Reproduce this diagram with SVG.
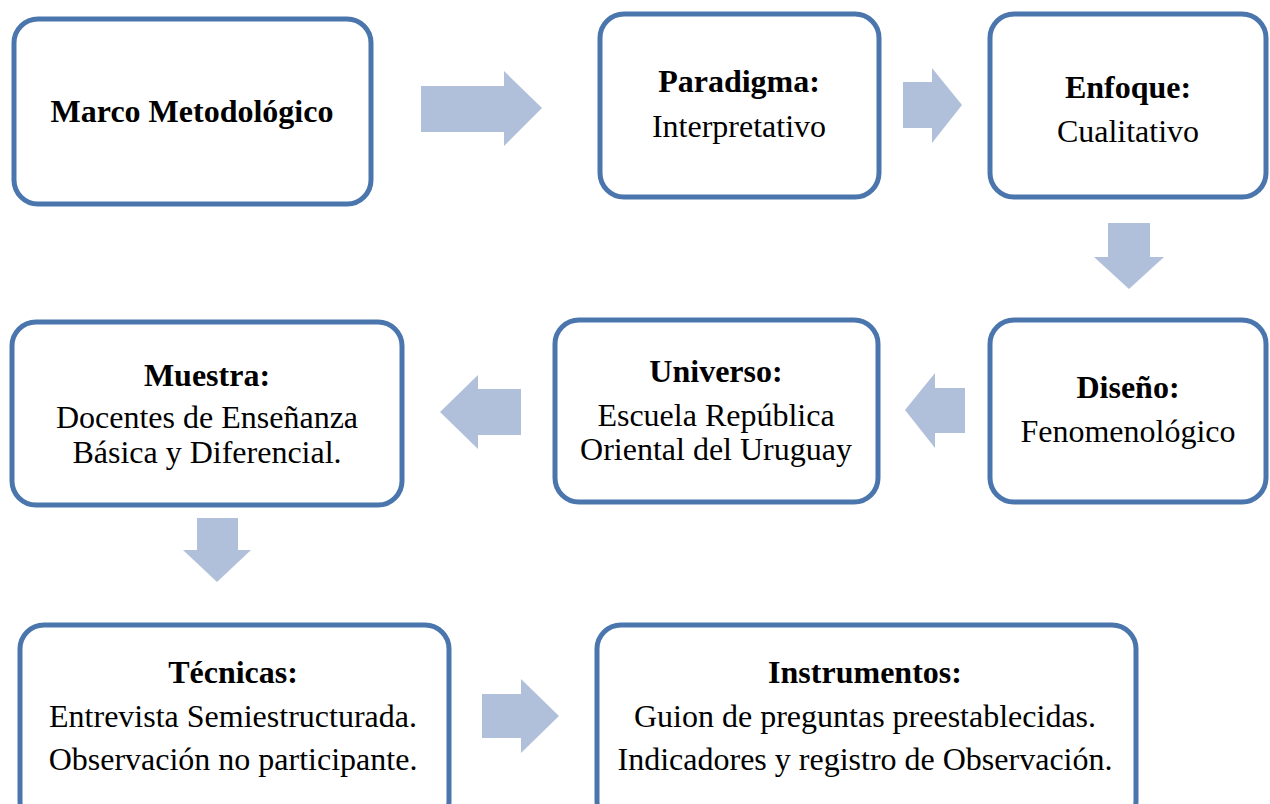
<svg xmlns="http://www.w3.org/2000/svg" width="1270" height="804" viewBox="0 0 1270 804">
<style>
.box{fill:#ffffff;stroke:#4a76ad;stroke-width:5}
.arr{fill:#b1c0da;stroke:none}
text{font-family:"Liberation Serif","Times New Roman",serif;font-size:32px;fill:#000;text-anchor:middle}
.b{font-weight:bold}
</style>
<rect width="1270" height="804" fill="#ffffff"/>
<g id="connectors">
<polygon class="arr" points="421,86 504,86 504,71 542,108 504,146 504,132 421,132"/>
<polygon class="arr" points="903,82 932,82 932,68 962,105 932,143 932,128 903,128"/>
<polygon class="arr" points="1108,223 1150,223 1150,257 1164,257 1129,289 1094,257 1108,257"/>
<polygon class="arr" points="965,388 935,388 935,373 905,410 935,448 935,433 965,433"/>
<polygon class="arr" points="521,389 478,389 478,375 440,412 478,449 478,435 521,435"/>
<polygon class="arr" points="197,518 238,518 238,550 251,550 217,582 183,550 197,550"/>
<polygon class="arr" points="482,694 521,694 521,679 559,716 521,753 521,738 482,738"/>
</g>
<g id="marco">
<rect class="box" x="14" y="19" width="357" height="185" rx="24"/>
<text class="b" x="192" y="122">Marco Metodológico</text>
</g>
<g id="paradigma">
<rect class="box" x="600" y="14" width="279" height="183" rx="24"/>
<text class="b" x="739" y="92">Paradigma:</text>
<text x="739" y="137">Interpretativo</text>
</g>
<g id="enfoque">
<rect class="box" x="990" y="14" width="276" height="183" rx="24"/>
<text class="b" x="1128" y="98">Enfoque:</text>
<text x="1128" y="142">Cualitativo</text>
</g>
<g id="diseno">
<rect class="box" x="990" y="320" width="276" height="182" rx="24"/>
<text class="b" x="1128" y="398">Diseño:</text>
<text x="1128" y="442">Fenomenológico</text>
</g>
<g id="universo">
<rect class="box" x="555" y="320" width="323" height="182" rx="24"/>
<text class="b" x="716" y="382">Universo:</text>
<text x="716" y="426">Escuela República</text>
<text x="716" y="460">Oriental del Uruguay</text>
</g>
<g id="muestra">
<rect class="box" x="12" y="322" width="390" height="183" rx="24"/>
<text class="b" x="207" y="386">Muestra:</text>
<text x="207" y="428">Docentes de Enseñanza</text>
<text x="207" y="463">Básica y Diferencial.</text>
</g>
<g id="tecnicas">
<rect class="box" x="20" y="625" width="429" height="200" rx="24"/>
<text class="b" x="233" y="683">Técnicas:</text>
<text x="233" y="727">Entrevista Semiestructurada.</text>
<text x="233" y="770">Observación no participante.</text>
</g>
<g id="instrumentos">
<rect class="box" x="597" y="625" width="539" height="200" rx="24"/>
<text class="b" x="865" y="683">Instrumentos:</text>
<text x="865" y="727">Guion de preguntas preestablecidas.</text>
<text x="865" y="770">Indicadores y registro de Observación.</text>
</g>
</svg>
